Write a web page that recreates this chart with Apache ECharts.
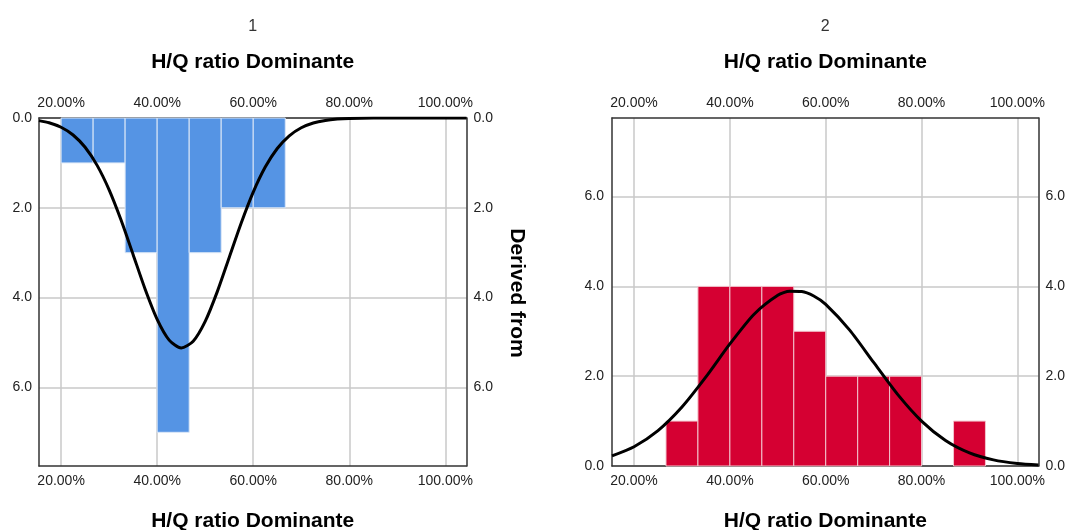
<!DOCTYPE html>
<html>
<head>
<meta charset="utf-8">
<script src="https://cdn.jsdelivr.net/npm/echarts@6/dist/echarts.min.js"></script>
<style>
html,body{margin:0;padding:0;background:#fff;}
#c{width:1070px;height:530px;}
</style>
</head>
<body>
<div id="c"></div>
<script>
// ---- data ----
const panelLabels = ['1', '2'];
const axisTitle = 'H/Q ratio Dominante';
const sideTitle = 'Derived from';
const xTicks = [20, 40, 60, 80, 100];
const yTicks = [0, 2, 4, 6];
const binEdges = [20, 26.67, 33.33, 40, 46.67, 53.33, 60, 66.67, 73.33, 80, 86.67, 93.33];
const counts1 = [1, 1, 3, 7, 3, 2, 2, 0, 0, 0, 0];
const counts2 = [0, 1, 4, 4, 4, 3, 2, 2, 2, 0, 1];
const curveX1 = [15.4, 17.5, 20, 22.5, 25, 27.5, 30, 32.5, 35, 37.5, 40, 42.5, 45, 47.5, 50, 52.5, 55, 57.5, 60, 62.5, 65, 67.5, 70, 72.5, 75, 77.5, 80, 85, 90, 95, 100, 104.4];
const curveY1 = [0.058, 0.105, 0.206, 0.378, 0.652, 1.055, 1.600, 2.278, 3.043, 3.813, 4.484, 4.946, 5.120, 4.972, 4.530, 3.872, 3.105, 2.337, 1.650, 1.093, 0.679, 0.396, 0.217, 0.111, 0.054, 0.024, 0.010, 0.001, 0, 0, 0, 0];
const curveX2 = [15.4, 20, 25, 30, 35, 40, 45, 50, 52.5, 55, 57.5, 60, 65, 70, 75, 80, 85, 90, 95, 100, 104.4];
const curveY2 = [0.226, 0.430, 0.789, 1.314, 1.984, 2.718, 3.375, 3.802, 3.891, 3.885, 3.786, 3.600, 3.026, 2.306, 1.594, 1.000, 0.569, 0.293, 0.137, 0.058, 0.025];

// ---- axis ranges ----
const X_MIN = 15.4, X_MAX = 104.4, Y_MAX = 7.75;

function binData(counts) {
  const out = [];
  counts.forEach((c, i) => { if (c > 0) out.push([binEdges[i], binEdges[i + 1], c]); });
  return out;
}
function pairs(xs, ys) { return xs.map((x, i) => [x, ys[i]]); }

const FONT = "'Liberation Sans', Arial, sans-serif";

function xAx(gridIndex, position, showSplit) {
  return {
    type: 'value', gridIndex: gridIndex, position: position, min: X_MIN, max: X_MAX,
    axisLine: { show: true, onZero: false, lineStyle: { color: '#333', width: 1.5 } },
    axisTick: { show: false, customValues: xTicks },
    axisLabel: { customValues: xTicks, formatter: v => v.toFixed(2) + '%', color: '#222', fontSize: 14, fontFamily: FONT, margin: 8 },
    splitLine: { show: showSplit, lineStyle: { color: '#c8c8c8', width: 1.5 } }
  };
}
function yAx(gridIndex, position, inverse, showSplit, margin) {
  return {
    type: 'value', gridIndex: gridIndex, position: position, min: 0, max: Y_MAX, inverse: inverse,
    axisLine: { show: true, onZero: false, lineStyle: { color: '#333', width: 1.5 } },
    axisTick: { show: false, customValues: yTicks },
    axisLabel: { customValues: yTicks, formatter: v => v.toFixed(1), color: '#222', fontSize: 14, fontFamily: FONT, margin: margin },
    splitLine: { show: showSplit, lineStyle: { color: '#c8c8c8', width: 1.5 } }
  };
}
function makeRender(fill, stroke) {
  return function (params, api) {
    const a = api.coord([api.value(0), 0]);
    const b = api.coord([api.value(1), api.value(2)]);
    return {
      type: 'rect',
      shape: { x: Math.min(a[0], b[0]), y: Math.min(a[1], b[1]), width: Math.abs(b[0] - a[0]), height: Math.abs(b[1] - a[1]) },
      style: { fill: fill, stroke: stroke, lineWidth: 1 }
    };
  };
}

const chart = echarts.init(document.getElementById('c'));
const cx1 = 252.7, cx2 = 825.3;
chart.setOption({
  animation: false,
  backgroundColor: '#fff',
  grid: [
    { left: 39, top: 118, width: 427.5, height: 348 },
    { left: 612, top: 118, width: 426.5, height: 348 }
  ],
  xAxis: [xAx(0, 'bottom', true), xAx(0, 'top', false), xAx(1, 'bottom', true), xAx(1, 'top', false)],
  yAxis: [yAx(0, 'left', true, true, 7), yAx(0, 'right', true, false, 7), yAx(1, 'left', false, true, 8), yAx(1, 'right', false, false, 7)],
  series: [
    { type: 'custom', xAxisIndex: 0, yAxisIndex: 0, renderItem: makeRender('#5594E4', '#dbe7f7'), encode: { x: [0, 1], y: 2 }, data: binData(counts1), z: 2 },
    { type: 'line', xAxisIndex: 0, yAxisIndex: 0, data: pairs(curveX1, curveY1), smooth: 0.25, showSymbol: false, lineStyle: { color: '#000', width: 3 }, z: 3 },
    { type: 'custom', xAxisIndex: 2, yAxisIndex: 2, renderItem: makeRender('#D50032', '#f2c4cd'), encode: { x: [0, 1], y: 2 }, data: binData(counts2), z: 2 },
    { type: 'line', xAxisIndex: 2, yAxisIndex: 2, data: pairs(curveX2, curveY2), smooth: 0.25, showSymbol: false, lineStyle: { color: '#000', width: 3 }, z: 3 }
  ],
  graphic: [
    { type: 'text', x: cx1, y: 27, style: { text: panelLabels[0], align: 'center', verticalAlign: 'middle', font: '16px ' + FONT, fill: '#333' } },
    { type: 'text', x: cx2, y: 27, style: { text: panelLabels[1], align: 'center', verticalAlign: 'middle', font: '16px ' + FONT, fill: '#333' } },
    { type: 'text', x: cx1, y: 62, style: { text: axisTitle, align: 'center', verticalAlign: 'middle', font: 'bold 21px ' + FONT, fill: '#000' } },
    { type: 'text', x: cx2, y: 62, style: { text: axisTitle, align: 'center', verticalAlign: 'middle', font: 'bold 21px ' + FONT, fill: '#000' } },
    { type: 'text', x: cx1, y: 521, style: { text: axisTitle, align: 'center', verticalAlign: 'middle', font: 'bold 21px ' + FONT, fill: '#000' } },
    { type: 'text', x: cx2, y: 521, style: { text: axisTitle, align: 'center', verticalAlign: 'middle', font: 'bold 21px ' + FONT, fill: '#000' } },
    { type: 'text', x: 516.7, y: 293, rotation: -Math.PI / 2, style: { text: sideTitle, align: 'center', verticalAlign: 'middle', font: 'bold 21px ' + FONT, fill: '#000' } }
  ]
});
</script>
</body>
</html>
